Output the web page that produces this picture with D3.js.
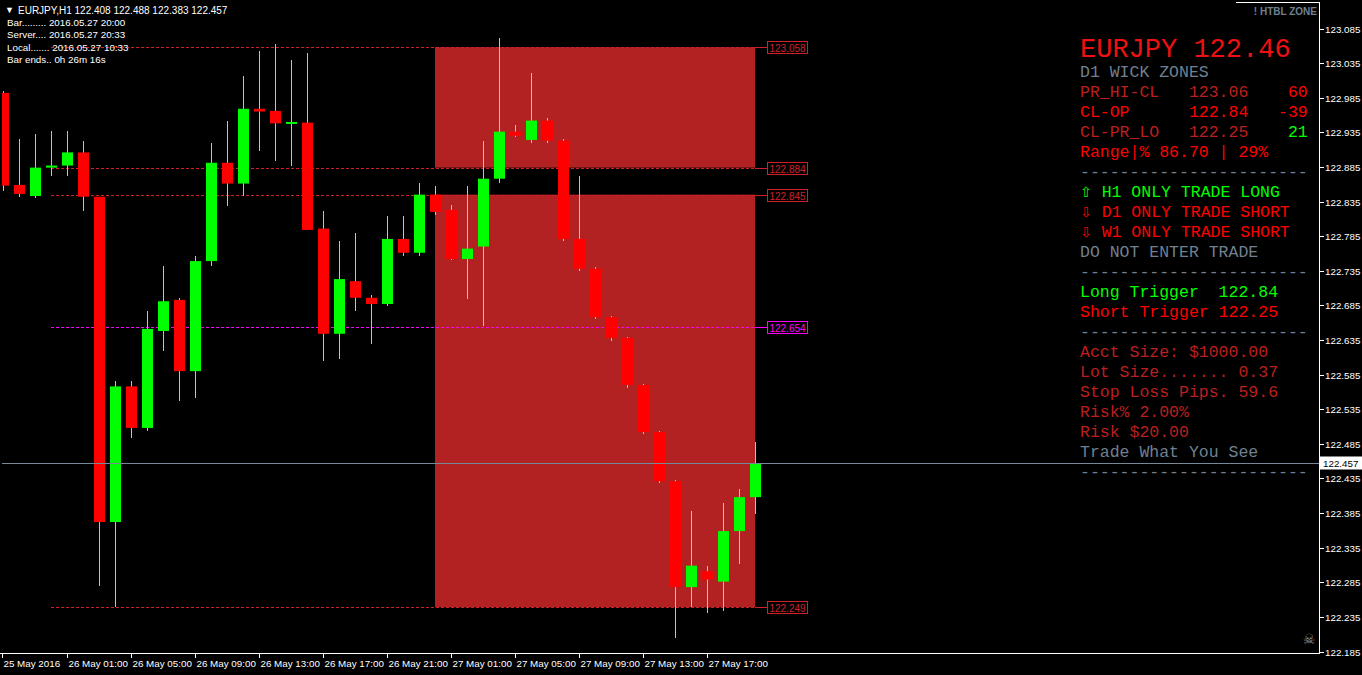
<!DOCTYPE html>
<html><head><meta charset="utf-8">
<script src="https://cdn.jsdelivr.net/npm/d3@7"></script>
<style>
html,body{margin:0;padding:0;background:#000;}
svg{display:block;}
text{white-space:pre;}
</style></head>
<body>
<script>
// ---------- DATA ----------
const symbol = "EURJPY,H1";
const startTime = new Date(2016, 4, 25, 21, 0);   // first bar
const endTime   = new Date(2016, 4, 27, 20, 0);   // last bar
const opens  = [122.992,122.859,122.843,122.884,122.887,122.906,122.842,122.372,122.568,122.508,
                122.648,122.693,122.590,122.749,122.891,122.861,122.969,122.966,122.948,122.949,
                122.796,122.644,122.720,122.696,122.687,122.781,122.761,122.845,122.823,122.752,
                122.770,122.868,122.936,122.924,122.952,122.923,122.781,122.738,122.668,122.638,
                122.570,122.502,122.431,122.278,122.301,122.286,122.359,122.408];
const highs  = [122.995,122.925,122.933,122.937,122.937,122.923,122.842,122.576,122.576,122.677,
                122.742,122.696,122.757,122.920,122.952,123.016,123.053,123.062,123.039,123.050,
                122.822,122.778,122.790,122.700,122.814,122.814,122.862,122.858,122.830,122.858,
                122.923,123.071,122.945,123.021,122.955,122.926,122.872,122.740,122.670,122.640,
                122.572,122.504,122.433,122.388,122.308,122.400,122.420,122.488];
const lows   = [122.850,122.842,122.840,122.872,122.872,122.822,122.279,122.249,122.493,122.503,
                122.619,122.547,122.551,122.742,122.829,122.843,122.908,122.894,122.887,122.794,
                122.605,122.607,122.677,122.629,122.684,122.757,122.757,122.816,122.750,122.694,
                122.655,122.862,122.928,122.920,122.920,122.778,122.735,122.665,122.634,122.566,
                122.499,122.428,122.205,122.250,122.240,122.243,122.312,122.383];
const closes = [122.858,122.846,122.884,122.887,122.906,122.842,122.372,122.568,122.508,122.651,
                122.691,122.590,122.749,122.891,122.861,122.969,122.965,122.948,122.950,122.794,
                122.644,122.723,122.696,122.687,122.781,122.761,122.845,122.820,122.752,122.767,
                122.868,122.936,122.930,122.952,122.923,122.781,122.738,122.668,122.638,122.570,
                122.502,122.431,122.278,122.309,122.289,122.359,122.408,122.457];
const yTicks = [123.085,123.035,122.985,122.935,122.885,122.835,122.785,122.735,122.685,122.635,
                122.585,122.535,122.485,122.435,122.385,122.335,122.285,122.235,122.185];
const xTickLabels = ["25 May 2016","26 May 01:00","26 May 05:00","26 May 09:00","26 May 13:00",
                     "26 May 17:00","26 May 21:00","27 May 01:00","27 May 05:00","27 May 09:00",
                     "27 May 13:00","27 May 17:00"];
const xTickBars = [0,4,8,12,16,20,24,28,32,36,40,44];
const zoneLevels = [123.058,122.884,122.845,122.654,122.249];
const zoneColors = ["#d0202a","#d0202a","#d0202a","#ff00ff","#d0202a"];
const zoneStartBar = 27, zoneEndBar = 47, levelLineStartBar = 3;
const currentPrice = 122.457;
const infoLines = ["Bar......... 2016.05.27 20:00","Server.... 2016.05.27 20:33",
                   "Local....... 2016.05.27 10:33","Bar ends.. 0h 26m 16s"];
const R="#ff0000", DR="#bb1f1f", G="#00ff00", GR="#708090";
const panelLines = [
  [["D1 WICK ZONES",GR]],
  [["PR_HI-CL   123.06",DR],["    60",R]],
  [["CL-OP      122.84",R],["   -39",R]],
  [["CL-PR_LO   122.25",DR],["    21",G]],
  [["Range|% 86.70 | 29%",R]],
  [["-----------------------",GR]],
  [["⇧",G],[" H1 ONLY TRADE LONG",G]],
  [["⇩",R],[" D1 ONLY TRADE SHORT",R]],
  [["⇩",R],[" W1 ONLY TRADE SHORT",R]],
  [["DO NOT ENTER TRADE",GR]],
  [["-----------------------",GR]],
  [["Long Trigger  122.84",G]],
  [["Short Trigger 122.25",R]],
  [["-----------------------",GR]],
  [["Acct Size: $1000.00",DR]],
  [["Lot Size....... 0.37",DR]],
  [["Stop Loss Pips. 59.6",DR]],
  [["Risk% 2.00%",DR]],
  [["Risk $20.00",DR]],
  [["Trade What You See",GR]],
  [["-----------------------",GR]]
];

// ---------- CHART ----------
const W=1362,H=675;
const plotL=0, plotR=1319, plotT=3, plotB=653;
const svg=d3.select("body").append("svg").attr("width",W).attr("height",H)
  .style("font-family","'Liberation Sans',Arial,sans-serif");
svg.append("rect").attr("width",W).attr("height",H).attr("fill","#000");

const times = d3.timeHour.range(startTime, d3.timeHour.offset(endTime,1));
const x = d3.scaleTime().domain([startTime,endTime]).range([3,755]);
const y = d3.scaleLinear().domain([122.185,123.085]).range([651.5,28.5]);

const bars = times.map((t,i)=>({t,o:opens[i],h:highs[i],l:lows[i],c:closes[i]}));

svg.append("clipPath").attr("id","pc").append("rect")
  .attr("x",2).attr("y",plotT).attr("width",plotR-2).attr("height",plotB-plotT);
const plot = svg.append("g").attr("clip-path","url(#pc)");

// zone rectangles
const zx0 = x(times[zoneStartBar]), zx1 = x(times[zoneEndBar]);
plot.append("rect").attr("x",zx0).attr("width",zx1-zx0)
  .attr("y",y(zoneLevels[0])).attr("height",y(zoneLevels[1])-y(zoneLevels[0])).attr("fill","#b22222");
plot.append("rect").attr("x",zx0).attr("width",zx1-zx0)
  .attr("y",y(zoneLevels[2])).attr("height",y(zoneLevels[4])-y(zoneLevels[2])).attr("fill","#b22222");

// level lines
const lx0 = x(times[levelLineStartBar]);
zoneLevels.forEach((lv,i)=>{
  const yy=Math.round(y(lv))+0.5;
  plot.append("line").attr("x1",lx0).attr("x2",zx1).attr("y1",yy).attr("y2",yy)
    .attr("stroke",zoneColors[i]).attr("stroke-dasharray","3,2").attr("shape-rendering","crispEdges");
  plot.append("line").attr("x1",zx1).attr("x2",767).attr("y1",yy).attr("y2",yy)
    .attr("stroke",zoneColors[i]).attr("shape-rendering","crispEdges");
  plot.append("rect").attr("x",767.5).attr("y",yy-6.5).attr("width",40).attr("height",12)
    .attr("fill","#000").attr("stroke",zoneColors[i]).attr("shape-rendering","crispEdges");
  plot.append("text").attr("x",787.5).attr("y",yy+4).attr("text-anchor","middle")
    .attr("font-size","10px").attr("fill",zoneColors[i]).text(lv.toFixed(3));
});

// current price line
const cpy = Math.round(y(currentPrice))+0.5;
svg.append("line").attr("x1",2).attr("x2",plotR).attr("y1",cpy).attr("y2",cpy)
  .attr("stroke","#778899").attr("shape-rendering","crispEdges");

// candles
const cg = plot.append("g");
bars.forEach(b=>{
  const cx=Math.round(x(b.t))+0.5;
  const up=b.c>=b.o;
  cg.append("line").attr("x1",cx).attr("x2",cx).attr("y1",y(b.h)).attr("y2",y(b.l))
    .attr("stroke","#c8c0c0").attr("shape-rendering","crispEdges");
  const top=y(Math.max(b.o,b.c)), bot=y(Math.min(b.o,b.c));
  cg.append("rect").attr("x",cx-5.5).attr("width",11).attr("y",top).attr("height",Math.max(2,bot-top))
    .attr("fill",up?"#00ff00":"#ff0000");
});

// axes lines (right and bottom) + button top edge
svg.append("line").attr("x1",plotR+0.5).attr("x2",plotR+0.5).attr("y1",2).attr("y2",plotB)
  .attr("stroke","#fff").attr("shape-rendering","crispEdges");
svg.append("line").attr("x1",0).attr("x2",plotR+1).attr("y1",plotB+0.5).attr("y2",plotB+0.5)
  .attr("stroke","#fff").attr("shape-rendering","crispEdges");
svg.append("line").attr("x1",1236).attr("x2",plotR+1).attr("y1",2.5).attr("y2",2.5)
  .attr("stroke","#fff").attr("shape-rendering","crispEdges");

// right axis
const ya = svg.append("g");
yTicks.forEach(v=>{
  const yy=Math.round(y(v))+0.5;
  ya.append("line").attr("x1",plotR+1).attr("x2",plotR+5).attr("y1",yy).attr("y2",yy).attr("stroke","#fff")
    .attr("shape-rendering","crispEdges");
  ya.append("text").attr("x",1325).attr("y",yy+3.5).attr("font-size","9.8px").attr("fill","#fff").text(v.toFixed(3));
});
ya.append("rect").attr("x",1320).attr("y",cpy-7).attr("width",42).attr("height",13).attr("fill","#fff");
ya.append("text").attr("x",1323).attr("y",cpy+3.5).attr("font-size","9.8px").attr("fill","#000").text(currentPrice.toFixed(3));

// bottom axis
const xa = svg.append("g");
xTickBars.forEach((bi,k)=>{
  const xx=Math.round(x(times[bi]))+0.5 - (k===0?1:0);
  xa.append("line").attr("x1",xx).attr("x2",xx).attr("y1",plotB).attr("y2",plotB+5).attr("stroke","#fff")
    .attr("shape-rendering","crispEdges");
  xa.append("text").attr("x",xx+1).attr("y",667).attr("font-size","9.8px").attr("fill","#fff").text(xTickLabels[k]);
});

// top-left info
svg.append("text").attr("x",5).attr("y",13).attr("font-size","9px").attr("fill","#fff").text("▼");
svg.append("text").attr("x",18).attr("y",14).attr("font-size","10px").attr("fill","#fff")
  .text(`${symbol} ${opens[47].toFixed(3)} ${highs[47].toFixed(3)} ${lows[47].toFixed(3)} ${closes[47].toFixed(3)}`);
infoLines.forEach((t,i)=>{
  svg.append("text").attr("x",7).attr("y",26+i*12.3).attr("font-size","9.8px").attr("fill","#fff").text(t);
});

// HTBL ZONE label
svg.append("text").attr("x",1317).attr("y",15).attr("text-anchor","end").attr("font-size","10px")
  .attr("fill","#708090").attr("font-weight","bold").text("! HTBL ZONE");
// skull icon
svg.append("text").attr("x",1309).attr("y",644).attr("text-anchor","middle").attr("font-size","14px")
  .attr("font-family","'DejaVu Sans',sans-serif").attr("fill","#999").text("☠");

// right panel
const mono="'Liberation Mono','Courier New',monospace";
svg.append("text").attr("x",1080).attr("y",57).attr("font-family",mono).attr("font-size","27px")
  .attr("fill","#ee1111").text("EURJPY 122.46");
panelLines.forEach((segs,i)=>{
  const t=svg.append("text").attr("x",1080).attr("y",77+i*20).attr("font-family",mono).attr("font-size","16.5px");
  segs.forEach(([s,c])=>{
    const isArrow = s==="⇧"||s==="⇩";
    const ts=t.append("tspan").attr("fill",c).text(s);
    if(isArrow) ts.attr("font-family","'DejaVu Sans',sans-serif").attr("font-size","14px");
  });
});
</script>
</body></html>
